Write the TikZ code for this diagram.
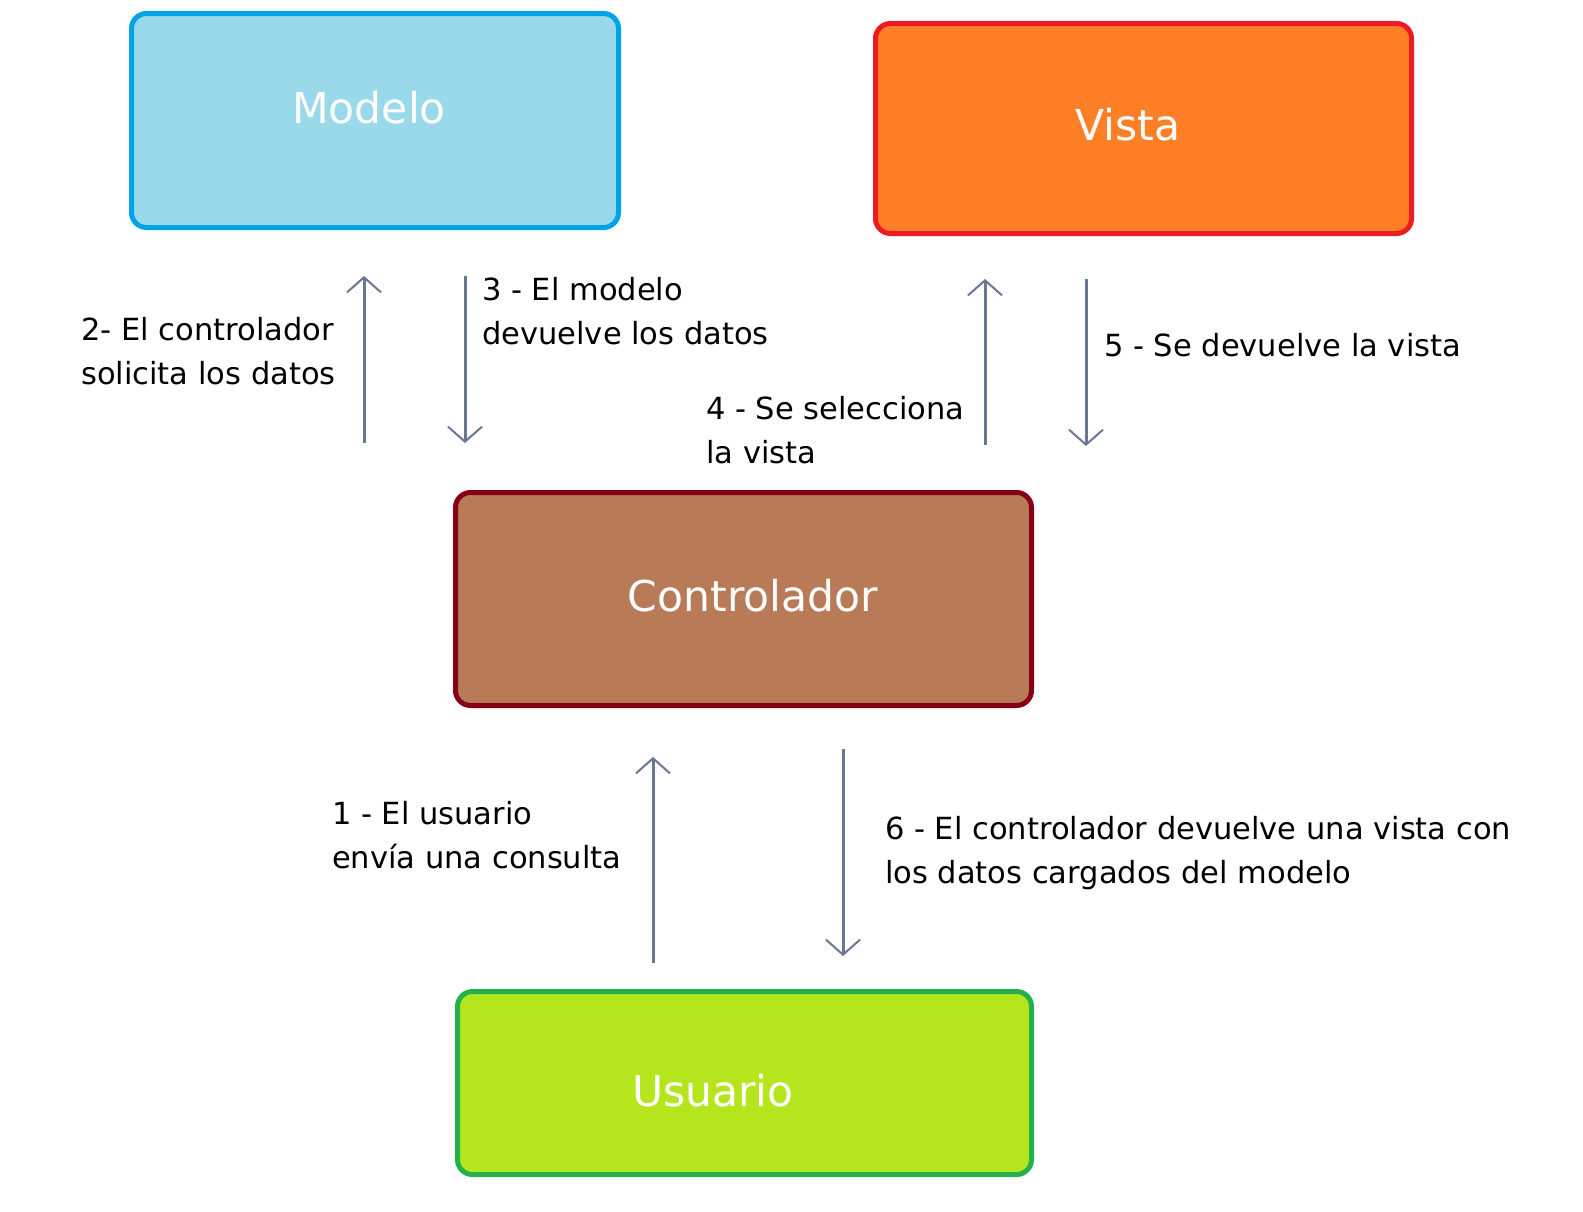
\documentclass[tikz,border=0pt]{standalone}
\usepackage{fontspec}
\setmainfont{DejaVu Sans}
\usetikzlibrary{arrows.meta}
\definecolor{mfill}{RGB}{153,217,234}
\definecolor{mline}{RGB}{0,162,232}
\definecolor{vfill}{RGB}{255,127,39}
\definecolor{vline}{RGB}{237,28,36}
\definecolor{cfill}{RGB}{185,122,87}
\definecolor{cline}{RGB}{136,0,21}
\definecolor{ufill}{RGB}{181,230,29}
\definecolor{uline}{RGB}{34,177,76}
\definecolor{arrcol}{RGB}{105,118,148}
\tikzset{
  box/.style={draw, line width=5pt, rounded corners=15pt, inner sep=0pt},
  boxlabel/.style={text=white, font=\fontsize{42.5}{50}\selectfont, inner sep=0pt},
  note/.style={anchor=west, align=left, inner sep=0pt, font=\fontsize{30.5}{43.5}\selectfont},
  arr/.style={draw=arrcol, line width=3pt, -{Straight Barb[length=15pt,width=34pt,line width=2pt]}},
}
\begin{document}
\begin{tikzpicture}[x=1pt,y=-1pt]
\useasboundingbox[fill=white] (0,0) rectangle (1583,1211);
% boxes
\node[box, draw=mline, fill=mfill, minimum width=487pt, minimum height=214pt] (modelo) at (375,120.5) {};
\node[box, draw=vline, fill=vfill, minimum width=536pt, minimum height=210pt] (vista) at (1143.5,128.5) {};
\node[box, draw=cline, fill=cfill, minimum width=576pt, minimum height=213pt] (controlador) at (743.5,599) {};
\node[box, draw=uline, fill=ufill, minimum width=574pt, minimum height=183pt] (usuario) at (744.5,1083) {};
\node[boxlabel] (modeloT) at (369,108) {Modelo};
\node[boxlabel] (vistaT) at (1128,125) {Vista};
\node[boxlabel] (controladorT) at (753,596) {Controlador};
\node[boxlabel] (usuarioT) at (713,1091) {Usuario};
% arrow end points
\coordinate (a2s) at (364,443); \coordinate (a2e) at (364,276);
\coordinate (a3s) at (465,276); \coordinate (a3e) at (465,443);
\coordinate (a4s) at (985,445); \coordinate (a4e) at (985,279);
\coordinate (a5s) at (1086,279); \coordinate (a5e) at (1086,446);
\coordinate (a1s) at (653,963); \coordinate (a1e) at (653,757);
\coordinate (a6s) at (843,749); \coordinate (a6e) at (843,956);
\draw[arr] (a2s) -- (a2e);
\draw[arr] (a3s) -- (a3e);
\draw[arr] (a4s) -- (a4e);
\draw[arr] (a5s) -- (a5e);
\draw[arr] (a1s) -- (a1e);
\draw[arr] (a6s) -- (a6e);
% notes
\node[note] (n2) at (81,351) {2- El controlador\\solicita los datos};
\node[note] (n3) at (482,311) {3 - El modelo\\devuelve los datos};
\node[note] (n4) at (706,430) {4 - Se selecciona\\la vista};
\node[note] (n5) at (1104,345) {5 - Se devuelve la vista};
\node[note] (n1) at (332,835) {1 - El usuario\\envía una consulta};
\node[note] (n6) at (885,853) {6 - El controlador devuelve una vista con\\los datos cargados del modelo};
\end{tikzpicture}
\end{document}
